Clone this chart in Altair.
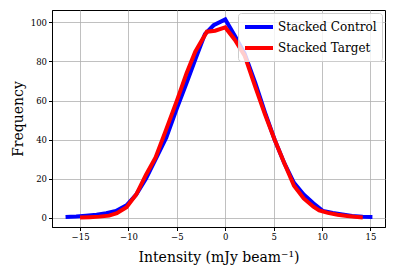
import altair as alt
import pandas as pd

control_x = [-16.5, -15.4, -14.4, -13.3, -12.3, -11.3, -10.2, -9.2, -8.2, -7.1, -6.1, -5.0, -4.0, -3.1,
             -2.1, -1.2, 0.0, 1.0, 2.0, 3.1, 4.1, 5.1, 6.1, 7.1, 8.1, 9.1, 10.1, 11.1, 12.1, 13.1, 14.2, 15.2]
control_y = [0.5, 0.8, 1.2, 1.7, 2.4, 3.6, 6.5, 12, 20, 31, 41, 56, 69, 81,
             94, 98.5, 101.5, 93, 84, 69, 54, 40, 28, 18, 12, 7.5, 3.6, 2.6, 1.8, 1.0, 0.6, 0.5]

target_x = [-15.0, -14.0, -13.0, -12.0, -11.2, -10.2, -9.2, -8.2, -7.2, -6.2, -5.0, -4.0, -3.1,
            -1.9, -1.05, 0.0, 1.0, 2.0, 3.1, 4.1, 5.1, 6.1, 7.1, 8.1, 9.1, 9.7, 10.6, 11.6, 12.6, 13.4, 14.2]
target_y = [0.2, 0.4, 0.7, 1.2, 2.5, 5.5, 12, 22, 31, 44, 60, 74, 85,
            95.2, 95.7, 97.4, 91, 83, 67, 53, 40, 28, 16.5, 10, 5.8, 3.9, 2.6, 1.7, 1.0, 0.6, 0.3]

series = ["Stacked Control", "Stacked Target"]
colors = ["#0000ff", "#ff0000"]

df = pd.concat([
    pd.DataFrame({"x": control_x, "y": control_y, "s": series[0], "o": range(len(control_x))}),
    pd.DataFrame({"x": target_x, "y": target_y, "s": series[1], "o": range(len(target_x))}),
])

serif = "DejaVu Serif"

chart = alt.Chart(df).mark_line(strokeWidth=4, clip=True).encode(
    x=alt.X("x:Q", scale=alt.Scale(domain=[-17.9, 16.5], nice=False, zero=False),
            axis=alt.Axis(values=[-15, -10, -5, 0, 5, 10, 15], title="Intensity (mJy beam⁻¹)")),
    y=alt.Y("y:Q", scale=alt.Scale(domain=[-4.6, 106.3], nice=False, zero=False),
            axis=alt.Axis(values=[0, 20, 40, 60, 80, 100], title="Frequency")),
    color=alt.Color("s:N", scale=alt.Scale(domain=series, range=colors),
                    legend=alt.Legend(title=None, orient="none", legendX=186, legendY=3)),
    order="o:Q",
).properties(
    width=333, height=217,
    autosize=alt.AutoSizeParams(type="none"),
    padding={"left": 44, "top": 2, "right": 3, "bottom": 41},
).configure_view(
    stroke="black", strokeWidth=1
).configure_axis(
    domainColor="black", domainWidth=1,
    gridColor="#b0b0b0", gridWidth=0.8,
    tickColor="black", tickSize=3.5,
    labelFont=serif, labelFontSize=8.5, labelColor="black",
    titleFont=serif, titleFontSize=14, titleFontWeight="normal", titleColor="black",
).configure_axisX(
    titlePadding=9
).configure_axisY(
    titlePadding=5
).configure_legend(
    strokeColor="#cccccc", fillColor="rgba(255,255,255,0.8)", padding=5, cornerRadius=3,
    labelFont=serif, labelFontSize=12, labelColor="black", labelOffset=10,
    symbolType="M-2,0H2", symbolStrokeWidth=4, symbolSize=196, symbolOffset=7, rowPadding=4,
    labelLimit=200, symbolOpacity=1
)

chart.save("out.html", embed_options={"renderer": "svg", "actions": False})
